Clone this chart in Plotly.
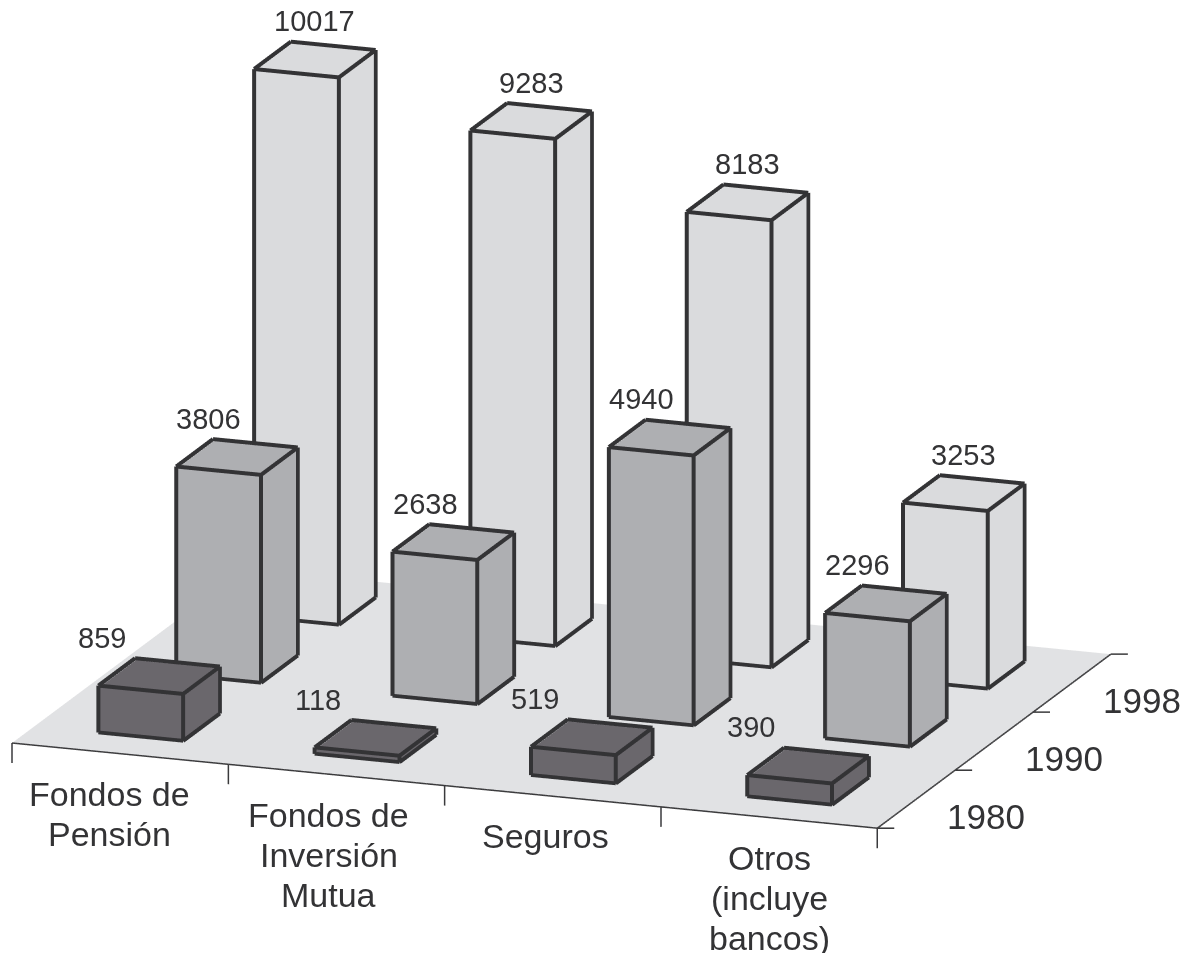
import plotly.graph_objects as go

categories = [["Fondos de", "Pensión"], ["Fondos de", "Inversión", "Mutua"], ["Seguros"], ["Otros", "(incluye", "bancos)"]]
years = ["1980", "1990", "1998"]
values_1980 = [859, 118, 519, 390]
values_1990 = [3806, 2638, 4940, 2296]
values_1998 = [10017, 9283, 8183, 3253]
series = [values_1980, values_1990, values_1998]
colors = ["#6a676c", "#aeafb2", "#dadbdd"]
FLOOR = "#e1e2e4"
EDGE = "#333335"
FONT = "'Liberation Sans', Arial, sans-serif"
HALF_W, HALF_D = 0.19, 0.23
E_XY, E_Z = 0.006, 30

fig = go.Figure()
nx, ny = len(categories), len(years)

# floor
fig.add_trace(go.Mesh3d(x=[0, nx, nx, 0], y=[0, 0, ny, ny], z=[0, 0, 0, 0], i=[0, 0], j=[1, 2], k=[2, 3],
                        color=FLOOR, flatshading=True, hoverinfo="skip",
                        lighting=dict(ambient=1, diffuse=0, specular=0, fresnel=0)))

for s, vals in enumerate(series):
    X, Y, Z, I, J, K = [], [], [], [], [], []
    ex, ey, ez = [], [], []
    for c, v in enumerate(vals):
        x0, x1 = c + .5 - HALF_W, c + .5 + HALF_W
        y0, y1 = s + .5 - HALF_D, s + .5 + HALF_D
        b = len(X)
        for z in (0, v):
            X += [x0, x1, x1, x0]; Y += [y0, y0, y1, y1]; Z += [z, z, z, z]
        for f in [(0, 1, 5, 4), (1, 2, 6, 5), (2, 3, 7, 6), (3, 0, 4, 7), (4, 5, 6, 7)]:
            I += [b + f[0], b + f[0]]; J += [b + f[1], b + f[2]]; K += [b + f[2], b + f[3]]
        # outline sits a hair outside the solid so the depth test keeps it visible
        px = [x0 - E_XY, x1 + E_XY, x1 + E_XY, x0 - E_XY]
        py = [y0 - E_XY, y0 - E_XY, y1 + E_XY, y1 + E_XY]
        pz = [E_Z] * 4 + [v + E_Z] * 4
        for a, d in [(0, 1), (1, 2), (4, 5), (5, 6), (6, 7), (7, 4), (0, 4), (1, 5), (2, 6)]:
            ex += [px[a % 4], px[d % 4], None]; ey += [py[a % 4], py[d % 4], None]; ez += [pz[a], pz[d], None]
    fig.add_trace(go.Mesh3d(x=X, y=Y, z=Z, i=I, j=J, k=K, color=colors[s], flatshading=True, hoverinfo="skip",
                            lighting=dict(ambient=1, diffuse=0, specular=0, fresnel=0)))
    fig.add_trace(go.Scatter3d(x=ex, y=ey, z=ez, mode="lines", line=dict(color=EDGE, width=8), hoverinfo="skip"))

# axis lines and ticks
ax, ay, az = [0, nx, None, nx, nx, None], [0, 0, None, 0, ny, None], [0, 0, None, 0, 0, None]
for c in range(nx + 1):
    ax += [c, c, None]; ay += [0, 0, None]; az += [0, -365, None]
for s in range(ny + 1):
    ax += [nx, nx + .0693, None]; ay += [s, s + .0258, None]; az += [0, 0, None]
fig.add_trace(go.Scatter3d(x=ax, y=ay, z=az, mode="lines", line=dict(color="#3a3a3c", width=3), hoverinfo="skip"))

ann = []
row_dx = [-57, -28, 0]
for s, vals in enumerate(series):
    for c, v in enumerate(vals):
        ann.append(dict(x=c + .5, y=s + .5, z=v, text=str(v), showarrow=False, xanchor="center", yanchor="middle",
                        xshift=row_dx[s], yshift=40, font=dict(family=FONT, size=29, color="#333335")))
cat_dx = [-11, -8, -7, 0]
for c, lines in enumerate(categories):
    for n, t in enumerate(lines):
        ann.append(dict(x=c + .5, y=0, z=0, text=t, showarrow=False, xanchor="center", yanchor="middle",
                        xshift=cat_dx[c], yshift=-(40 + 40 * n), font=dict(family=FONT, size=34, color="#333335")))
for s, t in enumerate(years):
    ann.append(dict(x=nx, y=s + .5, z=0, text=t, showarrow=False, xanchor="center", yanchor="middle",
                    xshift=70, yshift=-17, font=dict(family=FONT, size=35, color="#333335")))

axis = dict(visible=False, showspikes=False)
R = 3
K_SCALE = 2.077
CX, CZ = 0.03, -0.119
fig.update_layout(
    width=1187, height=953, margin=dict(l=0, r=0, t=0, b=0), paper_bgcolor="white", showlegend=False,
    scene=dict(
        domain=dict(x=[0, 1], y=[0, 1]),
        xaxis=dict(axis, range=[-0.1, 4.2]),
        yaxis=dict(axis, range=[-0.1, 3.3]),
        zaxis=dict(axis, range=[-500, 10500]),
        aspectmode="manual", aspectratio=dict(x=1 * K_SCALE, y=0.783 * K_SCALE, z=0.631 * K_SCALE),
        camera=dict(projection=dict(type="orthographic"), up=dict(x=0, y=0, z=1),
                    center=dict(x=CX, y=0, z=CZ),
                    eye=dict(x=0.329 * R + CX, y=-0.905 * R, z=0.271 * R + CZ)),
        annotations=ann,
    ),
)
fig.write_html("out.html", config=dict(displayModeBar=False), post_script="document.body.style.margin='0';")
